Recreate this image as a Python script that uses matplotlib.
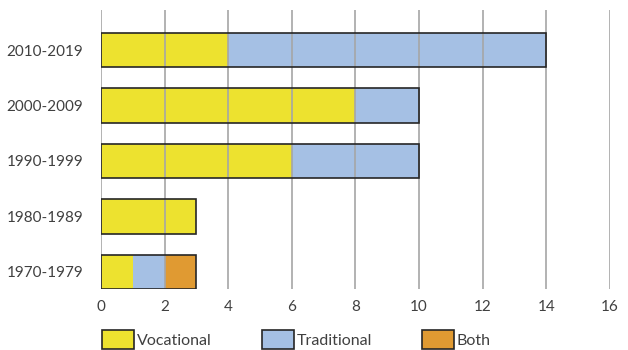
import matplotlib
matplotlib.use("Agg")
import matplotlib.pyplot as plt
from matplotlib.patches import Patch

plt.rcParams["font.family"] = ["Lato", "DejaVu Sans"]

decades = ["1970-1979", "1980-1989", "1990-1999", "2000-2009", "2010-2019"]
vocational = [1, 3, 6, 8, 4]
traditional = [1, 0, 4, 2, 10]
both = [1, 0, 0, 0, 0]

C_VOC = "#EDE22F"
C_TRA = "#A5C0E4"
C_BOTH = "#E09A32"

fig = plt.figure(figsize=(6.28, 3.5), dpi=100)
ax = fig.add_axes([0.161, 0.174, 0.81, 0.797])

H = 0.62
left = [0] * len(decades)
for vals, col in [(vocational, C_VOC), (traditional, C_TRA), (both, C_BOTH)]:
    ax.barh(decades, vals, left=left, height=H, color=col, edgecolor="none", zorder=1)
    left = [l + v for l, v in zip(left, vals)]

# outline around whole stack
ax.barh(decades, left, height=H, fill=False, edgecolor="#262626", linewidth=1.2, zorder=3)

ax.set_xlim(0, 16)
ax.set_ylim(-H / 2, 4.72)
ax.set_xticks(range(0, 17, 2))
ax.grid(axis="x", color="#A6A6A6", linewidth=1.2, zorder=2)
ax.set_axisbelow(False)
for s in ax.spines.values():
    s.set_visible(False)
ax.tick_params(length=0, labelsize=11, colors="#404040", pad=8)
ax.tick_params(axis="y", pad=13)

handles = [
    Patch(facecolor=C_VOC, edgecolor="#262626", linewidth=1.2, label="Vocational"),
    Patch(facecolor=C_TRA, edgecolor="#262626", linewidth=1.2, label="Traditional"),
    Patch(facecolor=C_BOTH, edgecolor="#262626", linewidth=1.2, label="Both"),
]
leg = fig.legend(handles=handles, loc="lower left", bbox_to_anchor=(0.14, -0.037),
                 ncol=3, frameon=False, fontsize=11.5, handlelength=2.0,
                 handleheight=1.4, handletextpad=0.2, columnspacing=3.1)
for t in leg.get_texts():
    t.set_color("#404040")

fig.savefig("out.png", dpi=100, facecolor="white")
